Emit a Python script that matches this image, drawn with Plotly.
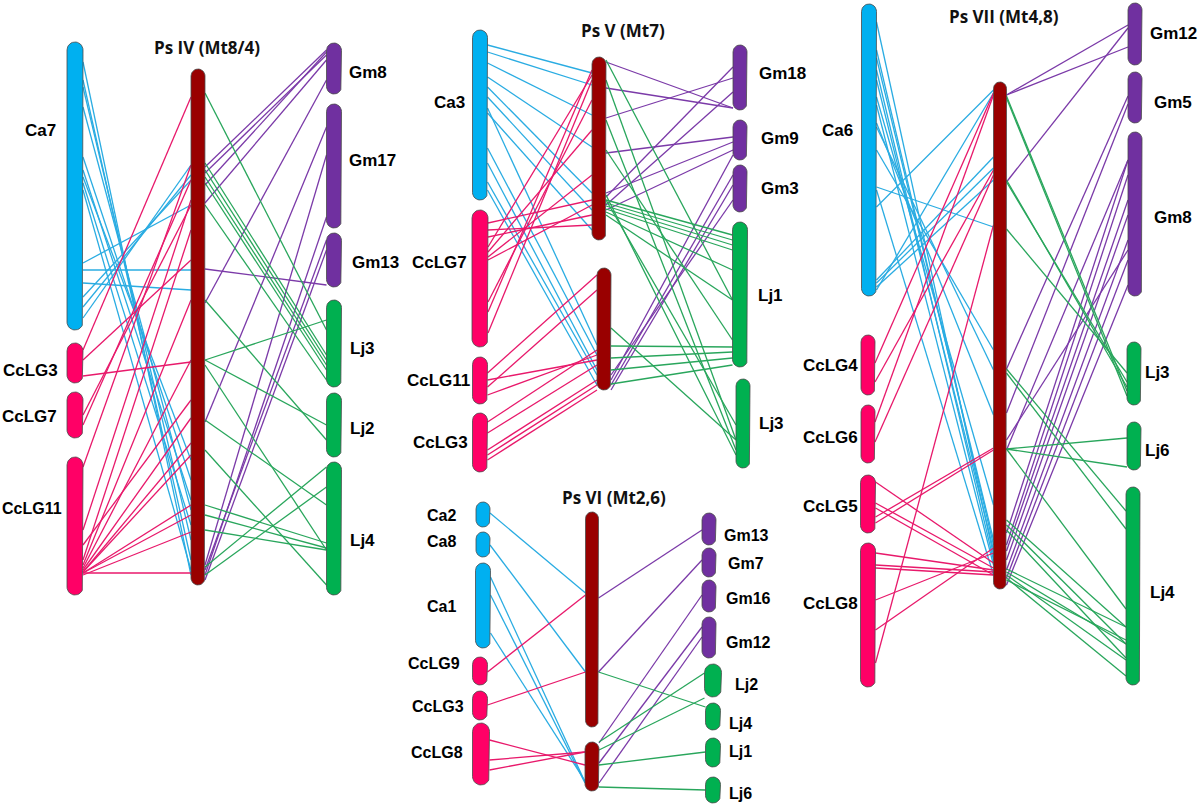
import numpy as np
import plotly.graph_objects as go

# ---------------- chromosome data ----------------
chrom_id = [
    "IV_Ca7", "IV_CcLG3", "IV_CcLG7", "IV_CcLG11", "IV_Ps", "IV_Gm8", "IV_Gm17", "IV_Gm13", "IV_Lj3", "IV_Lj2", "IV_Lj4",
    "V_Ca3", "V_CcLG7", "V_CcLG11", "V_CcLG3", "V_Psa", "V_Psb", "V_Gm18", "V_Gm9", "V_Gm3", "V_Lj1", "V_Lj3",
    "VI_Ca2", "VI_Ca8", "VI_Ca1", "VI_CcLG9", "VI_CcLG3", "VI_CcLG8", "VI_Psa", "VI_Psb",
    "VI_Gm13", "VI_Gm7", "VI_Gm16", "VI_Gm12", "VI_Lj2", "VI_Lj4", "VI_Lj1", "VI_Lj6",
    "VII_Ca6", "VII_CcLG4", "VII_CcLG6", "VII_CcLG5", "VII_CcLG8", "VII_Ps", "VII_Gm12", "VII_Gm5", "VII_Gm8",
    "VII_Lj3", "VII_Lj6", "VII_Lj4",
]
chrom_label = [
    "Ca7", "CcLG3", "CcLG7", "CcLG11", "", "Gm8", "Gm17", "Gm13", "Lj3", "Lj2", "Lj4",
    "Ca3", "CcLG7", "CcLG11", "CcLG3", "", "", "Gm18", "Gm9", "Gm3", "Lj1", "Lj3",
    "Ca2", "Ca8", "Ca1", "CcLG9", "CcLG3", "CcLG8", "", "",
    "Gm13", "Gm7", "Gm16", "Gm12", "Lj2", "Lj4", "Lj1", "Lj6",
    "Ca6", "CcLG4", "CcLG6", "CcLG5", "CcLG8", "", "Gm12", "Gm5", "Gm8",
    "Lj3", "Lj6", "Lj4",
]
chrom_group = [
    "Ca", "CcLG", "CcLG", "CcLG", "Ps", "Gm", "Gm", "Gm", "Lj", "Lj", "Lj",
    "Ca", "CcLG", "CcLG", "CcLG", "Ps", "Ps", "Gm", "Gm", "Gm", "Lj", "Lj",
    "Ca", "Ca", "Ca", "CcLG", "CcLG", "CcLG", "Ps", "Ps",
    "Gm", "Gm", "Gm", "Gm", "Lj", "Lj", "Lj", "Lj",
    "Ca", "CcLG", "CcLG", "CcLG", "CcLG", "Ps", "Gm", "Gm", "Gm",
    "Lj", "Lj", "Lj",
]
chrom_start = [
    42, 343, 392, 457, 69, 43, 104, 233, 300, 393, 462,
    30, 210, 357, 413, 57, 268, 45, 120, 165, 222, 379,
    502, 532, 563, 657, 691, 723, 512, 742,
    513, 548, 580, 617, 664, 703, 738, 777,
    4, 335, 405, 475, 543, 82, 3, 72, 132,
    342, 422, 487,
]
chrom_end = [
    330, 383, 438, 595, 585, 94, 228, 287, 387, 457, 595,
    200, 347, 404, 472, 240, 390, 110, 160, 212, 367, 468,
    527, 557, 648, 685, 720, 785, 727, 791,
    545, 577, 612, 658, 697, 730, 767, 803,
    296, 395, 463, 533, 687, 589, 65, 123, 296,
    405, 470, 685,
]

# ---------------- layout of the columns ----------------
chrom_x = [
    75, 75, 75, 75, 198, 334, 334, 334, 334, 334, 334,
    480, 480, 480, 480, 599, 604, 740, 740, 740, 740, 743,
    483, 483, 483, 480, 480, 481, 592, 592,
    709, 709, 709, 709, 713, 713, 713, 713,
    869, 868, 868, 868, 868, 1000, 1135, 1135, 1135,
    1134, 1134, 1133,
]
chrom_w = [
    16, 16, 16, 16, 14, 15, 15, 15, 15, 15, 15,
    15, 16, 15, 15, 14, 14, 14, 14, 14, 15, 14,
    14, 14, 15, 15, 15, 17, 13, 14,
    14, 14, 14, 14, 17, 15, 15, 15,
    15, 14, 14, 15, 15, 13, 14, 14, 14,
    14, 14, 14,
]
label_x = [
    58, 60, 59, 64, 0, 347, 347, 350, 348, 348, 348,
    467, 469, 472, 470, 0, 0, 757, 759, 759, 756, 757,
    458, 458, 458, 462, 466, 465, 0, 0,
    722, 726, 724, 724, 733, 727, 727, 727,
    855, 860, 860, 860, 860, 0, 1148, 1152, 1152,
    1143, 1143, 1148,
]
label_y = [
    130, 370, 416, 508, 0, 72, 160, 262, 348, 428, 540,
    102, 262, 380, 442, 0, 0, 73, 138, 188, 295, 423,
    515, 541, 606, 663, 706, 752, 0, 0,
    535, 563, 598, 642, 684, 723, 751, 793,
    130, 365, 437, 506, 603, 0, 33, 102, 217,
    372, 450, 592,
]
label_size = [17, 17, 17, 16] + [17] * 18 + [16] * 16 + [17] * 12

panel_titles = ["Ps IV (Mt8/4)", "Ps V (Mt7)", "Ps VI (Mt2,6)", "Ps VII (Mt4,8)"]
title_x = [207, 623, 614, 1004]
title_y = [47, 30, 497, 16]

# ---------------- syntenic links: (partner chromosome, partner position, Ps chromosome, Ps position) ----------------
links_IV = [
    ("IV_Ca7", 62, "IV_Ps", 575), ("IV_Ca7", 80, "IV_Ps", 560), ("IV_Ca7", 87, "IV_Ps", 540),
    ("IV_Ca7", 107, "IV_Ps", 510), ("IV_Ca7", 157, "IV_Ps", 480), ("IV_Ca7", 170, "IV_Ps", 500),
    ("IV_Ca7", 177, "IV_Ps", 460), ("IV_Ca7", 183, "IV_Ps", 525), ("IV_Ca7", 190, "IV_Ps", 570),
    ("IV_Ca7", 263, "IV_Ps", 205), ("IV_Ca7", 283, "IV_Ps", 290), ("IV_Ca7", 297, "IV_Ps", 180),
    ("IV_Ca7", 307, "IV_Ps", 175), ("IV_Ca7", 318, "IV_Ps", 165), ("IV_Ca7", 270, "IV_Ps", 270),
    ("IV_CcLG3", 350, "IV_Ps", 97), ("IV_CcLG3", 376, "IV_Ps", 362), ("IV_CcLG3", 360, "IV_Ps", 260),
    ("IV_CcLG7", 425, "IV_Ps", 180), ("IV_CcLG7", 415, "IV_Ps", 205),
    ("IV_CcLG11", 467, "IV_Ps", 165), ("IV_CcLG11", 530, "IV_Ps", 200), ("IV_CcLG11", 560, "IV_Ps", 230),
    ("IV_CcLG11", 565, "IV_Ps", 300), ("IV_CcLG11", 568, "IV_Ps", 360), ("IV_CcLG11", 570, "IV_Ps", 418),
    ("IV_CcLG11", 572, "IV_Ps", 443), ("IV_CcLG11", 572, "IV_Ps", 455), ("IV_CcLG11", 573, "IV_Ps", 505),
    ("IV_CcLG11", 573, "IV_Ps", 515), ("IV_CcLG11", 575, "IV_Ps", 532), ("IV_CcLG11", 573, "IV_Ps", 573),
    ("IV_CcLG11", 545, "IV_Ps", 400),
    ("IV_Gm8", 50, "IV_Ps", 167), ("IV_Gm8", 55, "IV_Ps", 173), ("IV_Gm8", 60, "IV_Ps", 203),
    ("IV_Gm8", 80, "IV_Ps", 303), ("IV_Gm8", 52, "IV_Ps", 185),
    ("IV_Gm13", 285, "IV_Ps", 269), ("IV_Gm13", 240, "IV_Ps", 570), ("IV_Gm13", 250, "IV_Ps", 580),
    ("IV_Gm17", 127, "IV_Ps", 422), ("IV_Gm17", 155, "IV_Ps", 565), ("IV_Gm17", 217, "IV_Ps", 575),
    ("IV_Lj3", 330, "IV_Ps", 93), ("IV_Lj3", 355, "IV_Ps", 163), ("IV_Lj3", 360, "IV_Ps", 170),
    ("IV_Lj3", 365, "IV_Ps", 177), ("IV_Lj3", 370, "IV_Ps", 183), ("IV_Lj3", 380, "IV_Ps", 205),
    ("IV_Lj3", 320, "IV_Ps", 360),
    ("IV_Lj2", 440, "IV_Ps", 300), ("IV_Lj2", 425, "IV_Ps", 360),
    ("IV_Lj4", 550, "IV_Ps", 365), ("IV_Lj4", 505, "IV_Ps", 420), ("IV_Lj4", 585, "IV_Ps", 450),
    ("IV_Lj4", 543, "IV_Ps", 505), ("IV_Lj4", 548, "IV_Ps", 515), ("IV_Lj4", 550, "IV_Ps", 530),
    ("IV_Lj4", 467, "IV_Ps", 567), ("IV_Lj4", 487, "IV_Ps", 575),
]

links_V = [
    ("V_Ca3", 45, "V_Psa", 73), ("V_Ca3", 52, "V_Psa", 85), ("V_Ca3", 63, "V_Psa", 115),
    ("V_Ca3", 77, "V_Psa", 147), ("V_Ca3", 87, "V_Psa", 193), ("V_Ca3", 97, "V_Psa", 210),
    ("V_Ca3", 113, "V_Psa", 230), ("V_Ca3", 108, "V_Psb", 345), ("V_Ca3", 148, "V_Psb", 355),
    ("V_Ca3", 163, "V_Psb", 370), ("V_Ca3", 182, "V_Psb", 375), ("V_Ca3", 190, "V_Psb", 385),
    ("V_CcLG7", 223, "V_Psa", 200), ("V_CcLG7", 237, "V_Psa", 215), ("V_CcLG7", 247, "V_Psa", 75),
    ("V_CcLG7", 252, "V_Psa", 130), ("V_CcLG7", 257, "V_Psa", 175), ("V_CcLG7", 260, "V_Psa", 205),
    ("V_CcLG7", 302, "V_Psa", 100), ("V_CcLG7", 312, "V_Psa", 70), ("V_CcLG7", 333, "V_Psa", 80),
    ("V_CcLG7", 230, "V_Psa", 225),
    ("V_CcLG11", 373, "V_Psb", 275), ("V_CcLG11", 387, "V_Psb", 290), ("V_CcLG11", 395, "V_Psb", 355),
    ("V_CcLG11", 380, "V_Psb", 360),
    ("V_CcLG3", 422, "V_Psb", 350), ("V_CcLG3", 433, "V_Psb", 365), ("V_CcLG3", 450, "V_Psb", 380),
    ("V_CcLG3", 455, "V_Psb", 385), ("V_CcLG3", 460, "V_Psb", 390),
    ("V_Gm18", 108, "V_Psa", 62), ("V_Gm18", 108, "V_Psa", 88), ("V_Gm18", 78, "V_Psa", 118),
    ("V_Gm18", 67, "V_Psa", 197), ("V_Gm18", 92, "V_Psa", 205),
    ("V_Gm9", 137, "V_Psa", 153), ("V_Gm9", 142, "V_Psa", 193), ("V_Gm9", 150, "V_Psa", 210),
    ("V_Gm9", 155, "V_Psb", 380),
    ("V_Gm3", 175, "V_Psb", 385), ("V_Gm3", 185, "V_Psb", 390), ("V_Gm3", 200, "V_Psb", 375),
    ("V_Lj1", 300, "V_Psa", 60), ("V_Lj1", 340, "V_Psa", 150), ("V_Lj1", 235, "V_Psa", 200),
    ("V_Lj1", 240, "V_Psa", 203), ("V_Lj1", 245, "V_Psa", 206), ("V_Lj1", 250, "V_Psa", 209),
    ("V_Lj1", 270, "V_Psa", 212), ("V_Lj1", 300, "V_Psa", 215), ("V_Lj1", 347, "V_Psb", 346),
    ("V_Lj1", 352, "V_Psb", 358), ("V_Lj1", 358, "V_Psb", 370), ("V_Lj1", 365, "V_Psb", 384),
    ("V_Lj3", 440, "V_Psa", 80), ("V_Lj3", 450, "V_Psa", 120), ("V_Lj3", 425, "V_Psa", 200),
    ("V_Lj3", 455, "V_Psa", 195), ("V_Lj3", 440, "V_Psb", 328),
]

links_VI = [
    ("VI_Ca2", 513, "VI_Psa", 593), ("VI_Ca8", 545, "VI_Psa", 672), ("VI_Ca1", 577, "VI_Psb", 782),
    ("VI_Ca1", 595, "VI_Psb", 783), ("VI_Ca1", 633, "VI_Psb", 781),
    ("VI_CcLG9", 672, "VI_Psa", 595), ("VI_CcLG3", 705, "VI_Psa", 672), ("VI_CcLG8", 740, "VI_Psb", 765),
    ("VI_CcLG8", 760, "VI_Psb", 752), ("VI_CcLG8", 770, "VI_Psb", 752),
    ("VI_Gm13", 530, "VI_Psa", 598), ("VI_Gm7", 560, "VI_Psa", 672), ("VI_Gm16", 595, "VI_Psb", 743),
    ("VI_Gm12", 627, "VI_Psb", 763), ("VI_Gm12", 637, "VI_Psb", 783),
    ("VI_Lj4", 707, "VI_Psa", 672), ("VI_Lj2", 673, "VI_Psb", 742), ("VI_Lj2", 698, "VI_Psb", 750),
    ("VI_Lj1", 752, "VI_Psb", 765), ("VI_Lj6", 790, "VI_Psb", 787),
]

links_VII = [
    ("VII_Ca6", 22, "VII_Ps", 555), ("VII_Ca6", 50, "VII_Ps", 545), ("VII_Ca6", 58, "VII_Ps", 540),
    ("VII_Ca6", 70, "VII_Ps", 560), ("VII_Ca6", 80, "VII_Ps", 550), ("VII_Ca6", 97, "VII_Ps", 505),
    ("VII_Ca6", 105, "VII_Ps", 565), ("VII_Ca6", 123, "VII_Ps", 415), ("VII_Ca6", 127, "VII_Ps", 370),
    ("VII_Ca6", 150, "VII_Ps", 350), ("VII_Ca6", 187, "VII_Ps", 227), ("VII_Ca6", 207, "VII_Ps", 90),
    ("VII_Ca6", 280, "VII_Ps", 157), ("VII_Ca6", 283, "VII_Ps", 168), ("VII_Ca6", 287, "VII_Ps", 180),
    ("VII_Ca6", 290, "VII_Ps", 93), ("VII_Ca6", 190, "VII_Ps", 575),
    ("VII_CcLG4", 363, "VII_Ps", 93), ("VII_CcLG4", 382, "VII_Ps", 170),
    ("VII_CcLG6", 422, "VII_Ps", 95), ("VII_CcLG6", 442, "VII_Ps", 175),
    ("VII_CcLG5", 482, "VII_Ps", 563), ("VII_CcLG5", 503, "VII_Ps", 568), ("VII_CcLG5", 508, "VII_Ps", 575),
    ("VII_CcLG5", 517, "VII_Ps", 448), ("VII_CcLG5", 523, "VII_Ps", 450),
    ("VII_CcLG8", 553, "VII_Ps", 570), ("VII_CcLG8", 565, "VII_Ps", 572), ("VII_CcLG8", 568, "VII_Ps", 575),
    ("VII_CcLG8", 600, "VII_Ps", 553), ("VII_CcLG8", 630, "VII_Ps", 548), ("VII_CcLG8", 663, "VII_Ps", 225),
    ("VII_Gm12", 25, "VII_Ps", 95), ("VII_Gm12", 47, "VII_Ps", 95), ("VII_Gm12", 28, "VII_Ps", 182),
    ("VII_Gm5", 96, "VII_Ps", 369), ("VII_Gm5", 104, "VII_Ps", 413),
    ("VII_Gm8", 250, "VII_Ps", 440), ("VII_Gm8", 160, "VII_Ps", 533), ("VII_Gm8", 175, "VII_Ps", 545),
    ("VII_Gm8", 200, "VII_Ps", 551), ("VII_Gm8", 215, "VII_Ps", 560), ("VII_Gm8", 240, "VII_Ps", 570),
    ("VII_Gm8", 260, "VII_Ps", 578), ("VII_Gm8", 285, "VII_Ps", 585), ("VII_Gm8", 160, "VII_Ps", 450),
    ("VII_Lj3", 391, "VII_Ps", 96), ("VII_Lj3", 396, "VII_Ps", 98), ("VII_Lj3", 387, "VII_Ps", 180),
    ("VII_Lj3", 382, "VII_Ps", 182), ("VII_Lj3", 373, "VII_Ps", 229),
    ("VII_Lj4", 511, "VII_Ps", 369), ("VII_Lj4", 529, "VII_Ps", 373), ("VII_Lj4", 609, "VII_Ps", 449),
    ("VII_Lj4", 627, "VII_Ps", 520), ("VII_Lj4", 644, "VII_Ps", 525), ("VII_Lj4", 658, "VII_Ps", 530),
    ("VII_Lj4", 627, "VII_Ps", 569), ("VII_Lj4", 644, "VII_Ps", 572), ("VII_Lj4", 660, "VII_Ps", 575),
    ("VII_Lj4", 676, "VII_Ps", 578), ("VII_Lj4", 640, "VII_Ps", 580),
    ("VII_Lj6", 438, "VII_Ps", 449), ("VII_Lj6", 467, "VII_Ps", 449),
]

# ---------------- styles ----------------
fill_colors = {"Ca": "#00B0F0", "CcLG": "#FF0066", "Ps": "#990000", "Gm": "#7030A0", "Lj": "#00B050"}
link_colors = {"Ca": "#2AACE2", "CcLG": "#E8196B", "Gm": "#7B3AA8", "Lj": "#29A65C"}

idx = {c: i for i, c in enumerate(chrom_id)}
fig = go.Figure()

# links
all_links = links_IV + links_V + links_VI + links_VII
for grp in ["Ca", "CcLG", "Gm", "Lj"]:
    xs, ys = [], []
    for a, pa, b, pb in all_links:
        ia, ib = idx[a], idx[b]
        if chrom_group[ia] != grp:
            continue
        xa, xb = chrom_x[ia], chrom_x[ib]
        if xa < xb:
            x0 = xa + chrom_w[ia] / 2
            x1 = xb - chrom_w[ib] / 2
        else:
            x0 = xa - chrom_w[ia] / 2
            x1 = xb + chrom_w[ib] / 2
        xs += [x0, x1, None]
        ys += [pa, pb, None]
    fig.add_trace(go.Scatter(x=xs, y=ys, mode="lines",
                             line=dict(color=link_colors[grp], width=1.3),
                             hoverinfo="skip", showlegend=False))

# chromosomes as capsules
for grp in ["Ca", "CcLG", "Ps", "Gm", "Lj"]:
    xs, ys = [], []
    for i in range(len(chrom_id)):
        if chrom_group[i] != grp:
            continue
        cx, r = chrom_x[i], chrom_w[i] / 2
        t, b = chrom_start[i], chrom_end[i]
        th1 = np.linspace(np.pi, 2 * np.pi, 16)
        th2 = np.linspace(0, np.pi, 16)
        px = list(cx + r * np.cos(th1)) + list(cx + r * np.cos(th2))
        py = list(t + r + r * np.sin(th1)) + list(b - r + r * np.sin(th2))
        xs += px + [px[0], None]
        ys += py + [py[0], None]
    fig.add_trace(go.Scatter(x=xs, y=ys, mode="lines", fill="toself",
                             fillcolor=fill_colors[grp],
                             line=dict(color="#4a4a4a", width=0.8),
                             hoverinfo="skip", showlegend=False))

# labels
for i in range(len(chrom_id)):
    if not chrom_label[i]:
        continue
    left = label_x[i] < chrom_x[i]
    fig.add_annotation(x=label_x[i], y=label_y[i], text=chrom_label[i], showarrow=False,
                       xanchor="right" if left else "left", yanchor="middle",
                       font=dict(family="Liberation Sans, Arial", size=label_size[i], color="black", weight="bold"))

for t, tx, ty in zip(panel_titles, title_x, title_y):
    fig.add_annotation(x=tx, y=ty, text=t, showarrow=False, xanchor="center", yanchor="middle",
                       font=dict(family="Open Sans", size=17, color="#111111", weight="bold"))

fig.update_layout(
    width=1200, height=809,
    margin=dict(l=0, r=0, t=0, b=0),
    paper_bgcolor="white", plot_bgcolor="white",
    xaxis=dict(range=[0, 1200], visible=False, fixedrange=True),
    yaxis=dict(range=[809, 0], visible=False, fixedrange=True),
    showlegend=False,
)
fig.write_html("out.html", config={"displayModeBar": False},
               post_script="document.body.style.margin='0';document.body.style.overflow='hidden';")
